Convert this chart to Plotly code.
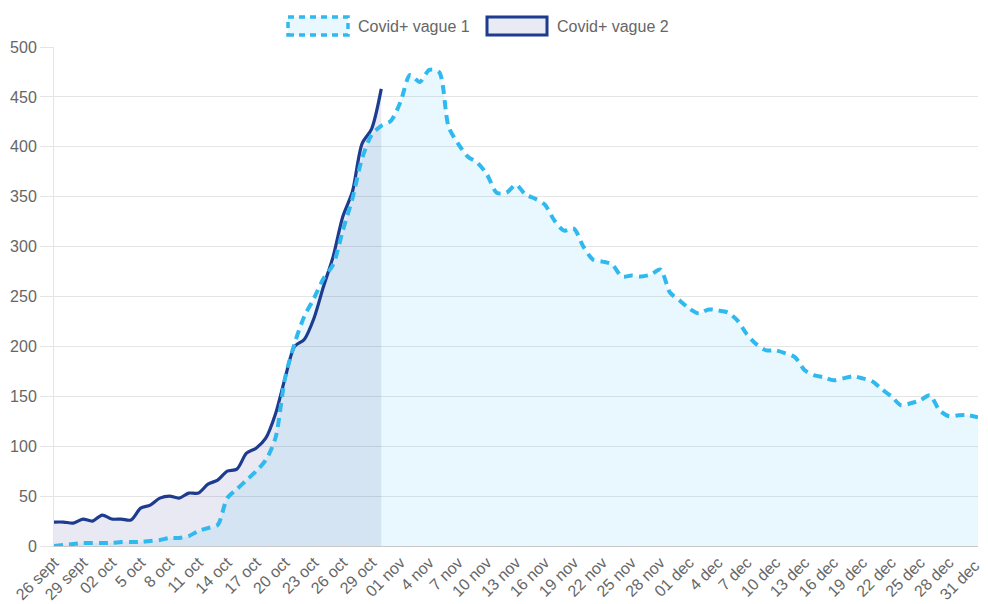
import plotly.graph_objects as go
import pandas as pd

# ---- data ----
days = [d.strftime("%d/%m") for d in pd.date_range("2020-09-26", "2020-12-31", freq="D")]

tick_labels = ["26 sept", "29 sept", "02 oct", "5 oct", "8 oct", "11 oct", "14 oct",
               "17 oct", "20 oct", "23 oct", "26 oct", "29 oct", "01 nov", "4 nov",
               "7 nov", "10 nov", "13 nov", "16 nov", "19 nov", "22 nov", "25 nov",
               "28 nov", "01 dec", "4 dec", "7 dec", "10 dec", "13 dec", "16 dec",
               "19 dec", "22 dec", "25 dec", "28 dec", "31 dec."]

vague1 = [0, 1, 2, 3, 3, 3, 3, 4, 4, 4,
          5, 6, 8, 8, 10, 15, 18, 21, 48, 57,
          66, 75, 86, 108, 168, 203, 230, 248, 268, 282,
          316, 348, 388, 412, 421, 426, 445, 472, 465, 477,
          475, 420, 403, 390, 384, 372, 354, 354, 362, 352,
          348, 342, 326, 316, 318, 300, 287, 285, 282, 270,
          271, 270, 272, 277, 254, 246, 238, 233, 237, 236,
          234, 226, 212, 202, 196, 196, 193, 189, 176, 171,
          169, 166, 168, 170, 168, 165, 157, 150, 141, 143,
          146, 151, 136, 130, 131, 131, 129]

vague2 = [24, 24, 23, 27, 25, 31, 27, 27, 26, 38,
          41, 48, 50, 48, 53, 53, 62, 66, 75, 77,
          93, 98, 108, 132, 168, 200, 207, 228, 260, 290,
          330, 355, 403, 418, 458]

series_names = ["Covid+ vague 1", "Covid+ vague 2"]

# ---- style ----
C1_LINE = "#2fb9ef"
C1_FILL = "rgba(41,182,246,0.10)"
C2_LINE = "#1d3b8f"
C2_FILL = "rgba(26,35,126,0.10)"
FONT = "Liberation Sans, Arial, sans-serif"
TXT = "#666666"
GRID = "#e5e5e5"

x1 = days[:len(vague1)]
x2 = days[:len(vague2)]

fig = go.Figure()
# fills first (below lines)
fig.add_trace(go.Scatter(x=x2, y=vague2, mode="lines", fill="tozeroy", fillcolor=C2_FILL,
                         line=dict(width=0, shape="spline", smoothing=0.8, color=C2_LINE),
                         showlegend=False, hoverinfo="skip"))
fig.add_trace(go.Scatter(x=x1, y=vague1, mode="lines", fill="tozeroy", fillcolor=C1_FILL,
                         line=dict(width=0, shape="spline", smoothing=0.8, color=C1_LINE),
                         showlegend=False, hoverinfo="skip"))
# lines
fig.add_trace(go.Scatter(x=x2, y=vague2, mode="lines", name=series_names[1],
                         line=dict(width=3.2, shape="spline", smoothing=0.8, color=C2_LINE),
                         showlegend=False))
fig.add_trace(go.Scatter(x=x1, y=vague1, mode="lines", name=series_names[0],
                         line=dict(width=4, shape="spline", smoothing=0.8, color=C1_LINE,
                                   dash="9px,6px"),
                         showlegend=False))

# page body has an 8px default margin -> figure starts at (8, 8)
OFF = 8
W, H = 988 - OFF, 604 - OFF
ML, MR, MT, MB = 54 - OFF, 10, 47 - OFF, 58
pw, ph = W - ML - MR, H - MT - MB


def px(x):
    return (x - OFF - ML) / pw


def py(y):
    return (H + OFF - MB - y) / ph


# custom legend (Chart.js style boxes)
legend_items = [
    (288, 348, 356, series_names[0], C1_LINE, C1_FILL, "dash"),
    (487, 547, 555, series_names[1], C2_LINE, "#e8eaf4", "solid"),
]
shapes = []
annotations = []
for x0, x1b, xt, name, lc, fc, dash in legend_items:
    shapes.append(dict(type="rect", xref="paper", yref="paper",
                       x0=px(x0), x1=px(x1b), y0=py(35), y1=py(17),
                       line=dict(color=lc, width=3.5 if dash == "dash" else 3,
                                 dash="6px,5px" if dash == "dash" else "solid"),
                       fillcolor=fc, layer="above"))
    annotations.append(dict(xref="paper", yref="paper", x=px(xt), y=py(26),
                            text=name, showarrow=False, xanchor="left", yanchor="middle",
                            font=dict(family=FONT, size=16, color=TXT)))

fig.update_layout(
    width=W, height=H,
    margin=dict(l=ML, r=MR, t=MT, b=MB, autoexpand=False),
    paper_bgcolor="white", plot_bgcolor="white",
    showlegend=False,
    shapes=shapes, annotations=annotations,
    font=dict(family=FONT, size=16, color=TXT),
)
fig.update_xaxes(
    type="category", categoryorder="array", categoryarray=days,
    range=[0, len(days) - 1],
    tickmode="array", tickvals=days[::3], ticktext=tick_labels,
    tickangle=-45, tickfont=dict(family=FONT, size=16, color=TXT),
    showgrid=False, showline=True, linecolor="#c8c8c8", linewidth=1,
    ticks="", zeroline=False, automargin=False,
)
fig.update_yaxes(
    range=[0, 500], tickmode="linear", tick0=0, dtick=50,
    showgrid=True, gridcolor=GRID, gridwidth=1,
    showline=True, linecolor=GRID, linewidth=1,
    ticks="outside", ticklen=13, tickcolor=GRID,
    tickfont=dict(family=FONT, size=16, color=TXT),
    zeroline=False, automargin=False,
)

fig.write_html("out.html")
